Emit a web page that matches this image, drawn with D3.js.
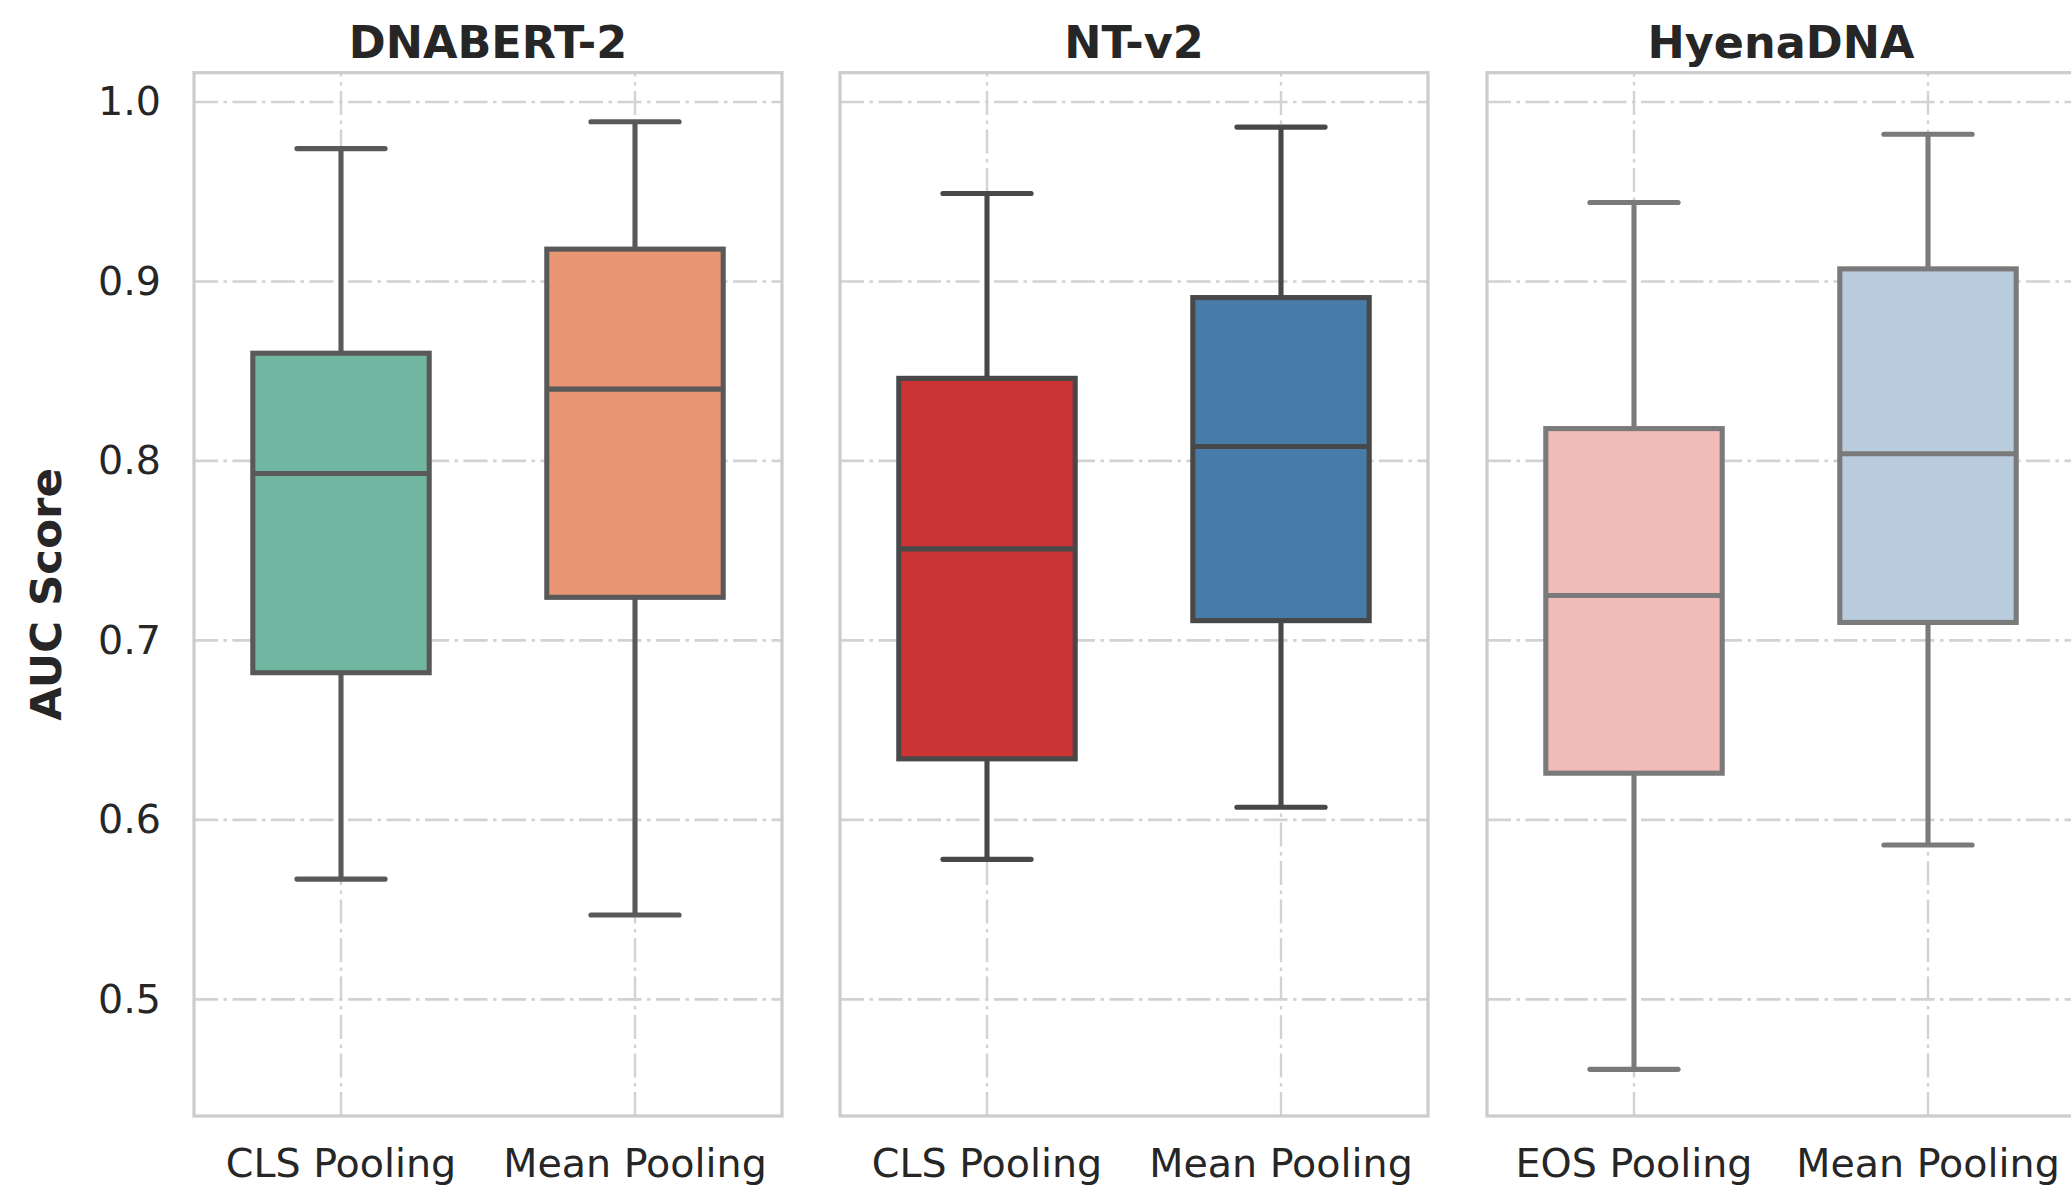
<!DOCTYPE html>
<html>
<head>
<meta charset="utf-8">
<script src="https://cdn.jsdelivr.net/npm/d3@7"></script>
<style>
  html, body { margin: 0; padding: 0; background: #ffffff; }
  svg { display: block; }
  text { font-family: "DejaVu Sans", sans-serif; fill: #262626; }
</style>
</head>
<body>
<svg id="chart" width="2071" height="1187"></svg>
<script>
// ---------- data ----------
const models = ["DNABERT-2", "NT-v2", "HyenaDNA"];
const categories = [
  ["CLS Pooling", "Mean Pooling"],
  ["CLS Pooling", "Mean Pooling"],
  ["EOS Pooling", "Mean Pooling"]
];
const whiskerLow  = [[0.567, 0.547], [0.578, 0.607], [0.461, 0.586]];
const q1Values    = [[0.682, 0.724], [0.634, 0.711], [0.626, 0.710]];
const medianVals  = [[0.793, 0.840], [0.751, 0.808], [0.725, 0.804]];
const q3Values    = [[0.860, 0.918], [0.846, 0.891], [0.818, 0.907]];
const whiskerHigh = [[0.974, 0.989], [0.949, 0.986], [0.944, 0.982]];
const yTicks = [0.5, 0.6, 0.7, 0.8, 0.9, 1.0];
const yTickLabels = ["0.5", "0.6", "0.7", "0.8", "0.9", "1.0"];
const yLabel = "AUC Score";
const fillColors = [["#71b6a1", "#e99675"], ["#cb3335", "#477ca8"], ["#f1bcb8", "#b9ccdd"]];
const edgeColors = ["#595959", "#484848", "#7a7a7a"];

// ---------- layout ----------
const svg = d3.select("#chart");
const panelLefts = [194, 840, 1487];
const panelWidth = 588;
const plotTop = 72.7, plotBottom = 1116;
const y = d3.scaleLinear().domain([0.435, 1.0163]).range([plotBottom, plotTop]);

const gridColor = "#d2d2d2";
const dash = "24,5.5,3.5,5.5";

models.forEach((model, mi) => {
  const left = panelLefts[mi];
  const right = left + panelWidth;
  const x = d3.scaleBand().domain(categories[mi]).range([left, right]).paddingInner(0).paddingOuter(0);
  const bw = x.bandwidth();
  const g = svg.append("g");

  // horizontal grid
  g.selectAll("line.hgrid").data(yTicks).enter().append("line")
    .attr("x1", left).attr("x2", right)
    .attr("y1", d => y(d)).attr("y2", d => y(d))
    .attr("stroke", gridColor).attr("stroke-width", 2.6)
    .attr("stroke-dasharray", dash);
  // vertical grid
  g.selectAll("line.vgrid").data(categories[mi]).enter().append("line")
    .attr("x1", d => x(d) + bw / 2).attr("x2", d => x(d) + bw / 2)
    .attr("y1", plotBottom).attr("y2", plotTop)
    .attr("stroke", gridColor).attr("stroke-width", 2.4)
    .attr("stroke-dasharray", dash);

  // boxes
  const stroke = edgeColors[mi];
  const lw = 5.1;
  categories[mi].forEach((cat, ci) => {
    const cx = x(cat) + bw / 2;
    const boxW = bw * 0.6;
    const capW = boxW / 2;
    const lo = whiskerLow[mi][ci], q1 = q1Values[mi][ci], md = medianVals[mi][ci],
          q3 = q3Values[mi][ci], hi = whiskerHigh[mi][ci];
    // whiskers
    g.append("line").attr("x1", cx).attr("x2", cx).attr("y1", y(q1)).attr("y2", y(lo))
      .attr("stroke", stroke).attr("stroke-width", lw);
    g.append("line").attr("x1", cx).attr("x2", cx).attr("y1", y(q3)).attr("y2", y(hi))
      .attr("stroke", stroke).attr("stroke-width", lw);
    // caps
    [lo, hi].forEach(v => {
      g.append("line").attr("x1", cx - capW / 2).attr("x2", cx + capW / 2)
        .attr("y1", y(v)).attr("y2", y(v))
        .attr("stroke", stroke).attr("stroke-width", lw).attr("stroke-linecap", "round");
    });
    // box
    g.append("rect").attr("x", cx - boxW / 2).attr("y", y(q3))
      .attr("width", boxW).attr("height", y(q1) - y(q3))
      .attr("fill", fillColors[mi][ci]).attr("stroke", stroke).attr("stroke-width", lw);
    // median
    g.append("line").attr("x1", cx - boxW / 2).attr("x2", cx + boxW / 2)
      .attr("y1", y(md)).attr("y2", y(md))
      .attr("stroke", stroke).attr("stroke-width", lw);
  });

  // frame
  g.append("rect").attr("x", left).attr("y", plotTop)
    .attr("width", panelWidth).attr("height", plotBottom - plotTop)
    .attr("fill", "none").attr("stroke", "#cccccc").attr("stroke-width", 3.2);

  // x axis labels
  const xAxis = d3.axisBottom(x).tickSize(0).tickPadding(33);
  const xa = svg.append("g").attr("transform", `translate(0,${plotBottom})`).call(xAxis);
  xa.select(".domain").remove();
  xa.selectAll("text").style("font-size", "39.6px").style("font-family", "DejaVu Sans").attr("fill", "#262626");

  // title
  svg.append("text").attr("x", left + panelWidth / 2).attr("y", 57.5)
    .attr("text-anchor", "middle").style("font-size", "44.5px").style("font-weight", "bold")
    .text(model);

  // y axis on first panel
  if (mi === 0) {
    const yAxis = d3.axisLeft(y).tickValues(yTicks).tickFormat((d, i) => yTickLabels[i]).tickSize(0).tickPadding(33);
    const ya = svg.append("g").attr("transform", `translate(${left},0)`).call(yAxis);
    ya.select(".domain").remove();
    ya.selectAll("text").style("font-size", "39.6px").style("font-family", "DejaVu Sans").attr("fill", "#262626");
    svg.append("text")
      .attr("transform", `translate(61,${(plotTop + plotBottom) / 2}) rotate(-90)`)
      .attr("text-anchor", "middle").style("font-size", "43.5px").style("font-weight", "bold")
      .text(yLabel);
  }
});
</script>
</body>
</html>
